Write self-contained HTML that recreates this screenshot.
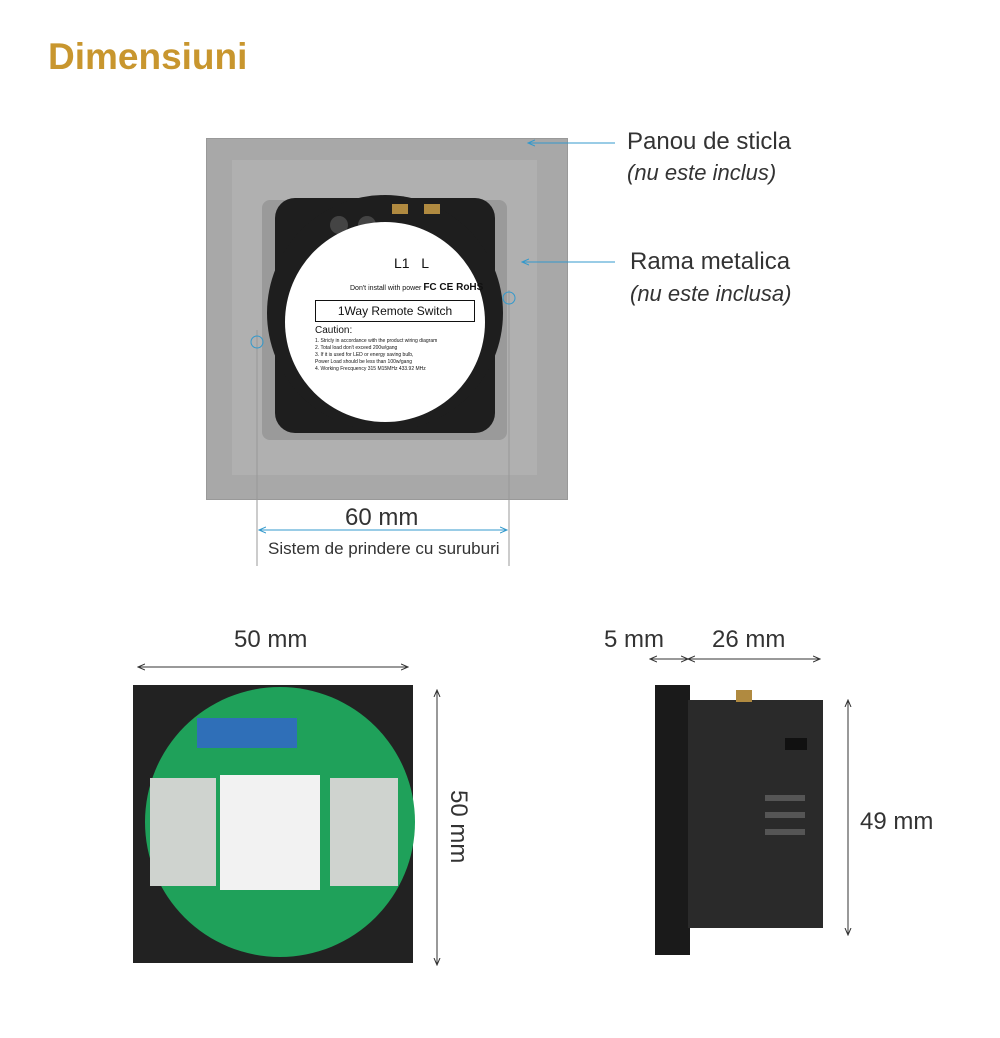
<!DOCTYPE html>
<html><head><meta charset="utf-8"><style>
body{margin:0;width:1000px;height:1038px;background:#fff;position:relative;overflow:hidden;font-family:"Liberation Sans",sans-serif;color:#333}
.a{position:absolute}
.t{position:absolute;font-size:24px;white-space:nowrap;color:#333}
</style></head><body>
<div class="a" style="left:48px;top:36px;font-size:37px;font-weight:bold;color:#c8962e">Dimensiuni</div>

<!-- top panel -->
<div class="a" style="left:206px;top:138px;width:360px;height:360px;background:#a8a8a8;border:1px solid #999"></div>
<div class="a" style="left:232px;top:160px;width:305px;height:315px;background:#b0b0b0"></div>
<div class="a" style="left:262px;top:200px;width:245px;height:240px;background:#9a9a9a;border-radius:8px"></div>
<div class="a" style="left:275px;top:198px;width:220px;height:235px;background:#1e1e1e;border-radius:20px"></div>
<div class="a" style="left:267px;top:195px;width:236px;height:236px;background:#1e1e1e;border-radius:50%"></div>
<div class="a" style="left:330px;top:216px;width:18px;height:18px;background:#444;border-radius:50%"></div>
<div class="a" style="left:358px;top:216px;width:18px;height:18px;background:#444;border-radius:50%"></div>
<div class="a" style="left:392px;top:204px;width:16px;height:10px;background:#b08a40"></div>
<div class="a" style="left:424px;top:204px;width:16px;height:10px;background:#b08a40"></div>
<div class="a" style="left:285px;top:222px;width:200px;height:200px;background:#fff;border-radius:50%"></div>
<div class="a" style="left:394px;top:255px;font-size:14px;color:#111">L1&nbsp;&nbsp;&nbsp;L</div>
<div class="a" style="left:350px;top:282px;font-size:7px;color:#111">Don't install with power <b style="font-size:10px">FC CE RoHS</b></div>
<div class="a" style="left:315px;top:300px;width:158px;height:20px;border:1px solid #111;font-size:12px;text-align:center;line-height:20px;color:#111">1Way Remote Switch</div>
<div class="a" style="left:315px;top:325px;font-size:10px;color:#111">Caution:</div>
<div class="a" style="left:315px;top:338px;font-size:5px;line-height:7px;color:#111">1. Stricly in accordance with the product wiring diagram<br>2. Total load don't exceed 200w/gang<br>3. If it is used for LED or energy saving bulb,<br>Power Load should be less than 100w/gang<br>4. Working Frecquency 315 M15MHz 433.92 MHz</div>

<svg class="a" style="left:0;top:0" width="1000" height="1038">
<defs><marker id="m" markerWidth="8" markerHeight="8" refX="7" refY="4" orient="auto-start-reverse"><path d="M0,1 L7,4 L0,7" fill="none" stroke="#333" stroke-width="1"/></marker>
<marker id="mb" markerWidth="8" markerHeight="8" refX="7" refY="4" orient="auto-start-reverse"><path d="M0,1 L7,4 L0,7" fill="none" stroke="#3399cc" stroke-width="1"/></marker></defs>
<line x1="528" y1="143" x2="615" y2="143" stroke="#3399cc" marker-start="url(#mb)"/>
<line x1="522" y1="262" x2="615" y2="262" stroke="#3399cc" marker-start="url(#mb)"/>
<line x1="257" y1="330" x2="257" y2="566" stroke="#999"/>
<line x1="509" y1="290" x2="509" y2="566" stroke="#999"/>
<circle cx="257" cy="342" r="6" fill="none" stroke="#3399cc"/>
<circle cx="509" cy="298" r="6" fill="none" stroke="#3399cc"/>
<line x1="259" y1="530" x2="507" y2="530" stroke="#3399cc" marker-start="url(#mb)" marker-end="url(#mb)"/>
<line x1="138" y1="667" x2="408" y2="667" stroke="#333" marker-start="url(#m)" marker-end="url(#m)"/>
<line x1="437" y1="690" x2="437" y2="965" stroke="#333" marker-start="url(#m)" marker-end="url(#m)"/>
<line x1="650" y1="659" x2="688" y2="659" stroke="#333" marker-start="url(#m)" marker-end="url(#m)"/>
<line x1="688" y1="659" x2="820" y2="659" stroke="#333" marker-start="url(#m)" marker-end="url(#m)"/>
<line x1="848" y1="700" x2="848" y2="935" stroke="#333" marker-start="url(#m)" marker-end="url(#m)"/>
</svg>

<div class="t" style="left:627px;top:128px">Panou de sticla</div>
<div class="t" style="left:627px;top:160px;font-style:italic;font-size:22px">(nu este inclus)</div>
<div class="t" style="left:630px;top:248px">Rama metalica</div>
<div class="t" style="left:630px;top:281px;font-style:italic;font-size:22px">(nu este inclusa)</div>
<div class="t" style="left:345px;top:504px">60 mm</div>
<div class="a" style="left:268px;top:539px;font-size:17px">Sistem de prindere cu suruburi</div>

<!-- bottom left module -->
<div class="t" style="left:234px;top:626px">50 mm</div>
<div class="a" style="left:133px;top:685px;width:280px;height:278px;background:#222"></div>
<div class="a" style="left:145px;top:687px;width:270px;height:270px;background:#1fa15a;border-radius:50%"></div>
<div class="a" style="left:197px;top:718px;width:100px;height:30px;background:#2f6fb8"></div>
<div class="a" style="left:150px;top:778px;width:66px;height:108px;background:#cfd3cf"></div>
<div class="a" style="left:220px;top:775px;width:100px;height:115px;background:#f2f2f2"></div>
<div class="a" style="left:330px;top:778px;width:68px;height:108px;background:#cfd3cf"></div>
<div class="t" style="transform:rotate(90deg);transform-origin:left top;left:472px;top:790px">50 mm</div>

<!-- bottom right side -->
<div class="t" style="left:604px;top:626px">5 mm</div>
<div class="t" style="left:712px;top:626px">26 mm</div>
<div class="a" style="left:655px;top:685px;width:35px;height:270px;background:#1a1a1a"></div>
<div class="a" style="left:688px;top:700px;width:135px;height:228px;background:#2a2a2a"></div>
<div class="a" style="left:736px;top:690px;width:16px;height:12px;background:#b08a40"></div>
<div class="a" style="left:785px;top:738px;width:22px;height:12px;background:#111"></div>
<div class="a" style="left:765px;top:795px;width:40px;height:6px;background:#555"></div>
<div class="a" style="left:765px;top:812px;width:40px;height:6px;background:#555"></div>
<div class="a" style="left:765px;top:829px;width:40px;height:6px;background:#555"></div>
<div class="t" style="left:860px;top:808px">49 mm</div>
</body></html>
